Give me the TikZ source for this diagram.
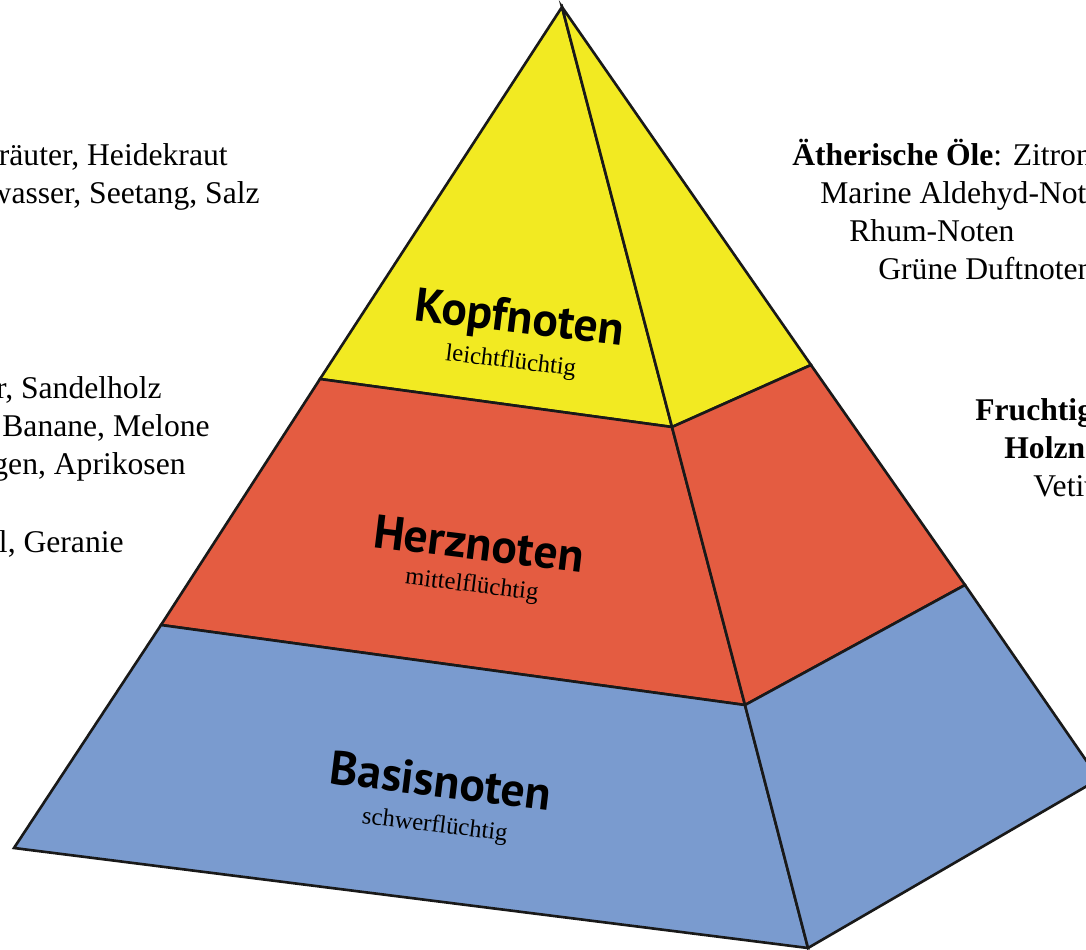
\documentclass[tikz,border=0pt]{standalone}
\usepackage{fontspec}
\setmainfont{Liberation Serif}
\newfontfamily\headfont{PT Sans}
\definecolor{TopYellow}{RGB}{242, 234, 34}
\definecolor{HeartRed}{RGB}{228, 92, 65}
\definecolor{BaseBlue}{RGB}{122, 155, 207}
\usepackage{tikz}
\usetikzlibrary{positioning}

\begin{document}
\begin{tikzpicture}[x=0.02cm, y=-0.02cm, every node/.style={font=\fontsize{18}{21}\selectfont, inner sep=0pt},
    face/.style={draw=black!90, line width=1.5pt},
    layer/.style={font=\headfont\bfseries\fontsize{27}{30}\selectfont, rotate=-7, anchor=base},
    volatility/.style={font=\fontsize{14}{16}\selectfont, rotate=-7, anchor=base}]
    \useasboundingbox (0,0) rectangle (1086,950);
    \clip (0,0) rectangle (1086,950);

    % corners of the pyramid
    \coordinate (apex) at (562,7);
    \coordinate (L1) at (320,379);
    \coordinate (F1) at (672,427);
    \coordinate (R1) at (811,365);
    \coordinate (L2) at (161,625);
    \coordinate (F2) at (745,705);
    \coordinate (R2) at (965,585);
    \coordinate (L3) at (14,848);
    \coordinate (F3) at (808,948);
    \coordinate (R3) at (1099,779);

    % faces
    \filldraw[face, fill=TopYellow] (apex) -- (L1) -- (F1) -- cycle;
    \filldraw[face, fill=TopYellow] (apex) -- (F1) -- (R1) -- cycle;
    \filldraw[face, fill=HeartRed] (L1) -- (L2) -- (F2) -- (F1) -- cycle;
    \filldraw[face, fill=HeartRed] (F1) -- (F2) -- (R2) -- (R1) -- cycle;
    \filldraw[face, fill=BaseBlue] (L2) -- (L3) -- (F3) -- (F2) -- cycle;
    \filldraw[face, fill=BaseBlue] (F2) -- (F3) -- (R3) -- (R2) -- cycle;

    \node[layer] (kopf) at (518,333) {Kopfnoten};
    \node[volatility] (leicht) at (510,368) {leichtflüchtig};
    \node[layer] (herz) at (477,560) {Herznoten};
    \node[volatility] (mittel) at (471,592) {mittelflüchtig};
    \node[layer] (basis) at (439,797) {Basisnoten};
    \node[volatility] (schwer) at (434,832) {schwerflüchtig};

    % left lists
    \node[anchor=base east] (kraeuter) at (228,165) {räuter, Heidekraut};
    \node[anchor=base east] (meer) at (260,203) {wasser, Seetang, Salz};
    \node[anchor=base east] (holz) at (162,398) {r, Sandelholz};
    \node[anchor=base east] (frucht) at (210,436) {Banane, Melone};
    \node[anchor=base east] (aprikose) at (186,474) {gen, Aprikosen};
    \node[anchor=base east] (geranie) at (124,552) {l, Geranie};

    % right lists
    \node[anchor=base west] (oele) at (792,165) {\textbf{Ätherische Öle}: Zitronen};
    \node[anchor=base west] (aldehyd) at (820,203) {Marine Aldehyd-Noten};
    \node[anchor=base west] (rhum) at (849,241) {Rhum-Noten};
    \node[anchor=base west] (gruen) at (878,279) {Grüne Duftnoten};
    \node[anchor=base west] (fruchtig) at (975,420) {\textbf{Fruchtige}};
    \node[anchor=base west] (holzn) at (1004,458) {\textbf{Holznoten}};
    \node[anchor=base west] (veti) at (1033,496) {Vetiver};
\end{tikzpicture}
\end{document}
